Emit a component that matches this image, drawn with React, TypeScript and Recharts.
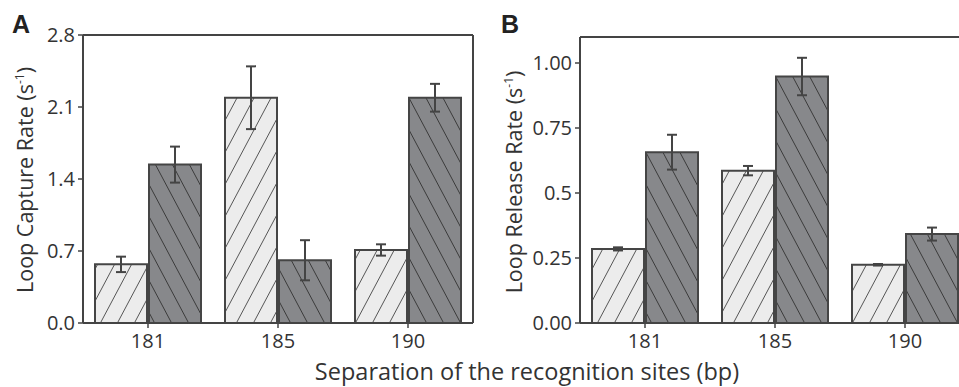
import React from "react";
import { BarChart, Bar, XAxis, YAxis, ErrorBar, ReferenceLine } from "recharts";

// separation of the recognition sites (bp)
const categories = ["181", "185", "190"];

// panel A: loop capture rate (s^-1)
const captureLight = [0.57, 2.19, 0.71];
const captureLightErr = [0.075, 0.305, 0.055];
const captureDark = [1.54, 0.61, 2.19];
const captureDarkErr = [0.175, 0.195, 0.135];
const captureTicks = [0, 0.7, 1.4, 2.1, 2.8];

// panel B: loop release rate (s^-1)
const releaseLight = [0.285, 0.586, 0.224];
const releaseLightErr = [0.006, 0.018, 0.003];
const releaseDark = [0.657, 0.948, 0.342];
const releaseDarkErr = [0.067, 0.072, 0.025];
const releaseTicks = [0, 0.25, 0.5, 0.75, 1.0];
const releaseTickLabels = ["0.00", "0.25", "0.5", "0.75", "1.00"];

const FONT = "'Open Sans', sans-serif";
const TEXT = "#333333";
const AXIS = "#444444";
const LIGHT = "#ececec";
const DARK = "#87888b";
const EDGE = "#454545";

const buildRows = (
  light: number[],
  lightErr: number[],
  dark: number[],
  darkErr: number[]
) =>
  categories.map((name, i) => ({
    name,
    light: light[i],
    lightErr: lightErr[i],
    dark: dark[i],
    darkErr: darkErr[i],
  }));

const captureData = buildRows(captureLight, captureLightErr, captureDark, captureDarkErr);
const releaseData = buildRows(releaseLight, releaseLightErr, releaseDark, releaseDarkErr);

const tickStyle = { fill: TEXT, fontSize: 20, fontFamily: FONT };
const axisLine = { stroke: AXIS, strokeWidth: 2 };
const tickLine = { stroke: AXIS, strokeWidth: 1.5 };

function Hatches({ prefix }: { prefix: string }) {
  return (
    <defs>
      <pattern id={`${prefix}-light`} patternUnits="userSpaceOnUse" width={17} height={32}>
        <rect width={17} height={32} fill={LIGHT} />
        <line x1={0} y1={32} x2={17} y2={0} stroke="#555" strokeWidth={1} />
        <line x1={-17} y1={32} x2={0} y2={0} stroke="#555" strokeWidth={1} />
        <line x1={17} y1={32} x2={34} y2={0} stroke="#555" strokeWidth={1} />
      </pattern>
      <pattern id={`${prefix}-dark`} patternUnits="userSpaceOnUse" width={17} height={32}>
        <rect width={17} height={32} fill={DARK} />
        <line x1={0} y1={0} x2={17} y2={32} stroke="#3a3a3a" strokeWidth={1} />
        <line x1={-17} y1={0} x2={0} y2={32} stroke="#3a3a3a" strokeWidth={1} />
        <line x1={17} y1={0} x2={34} y2={32} stroke="#3a3a3a" strokeWidth={1} />
      </pattern>
    </defs>
  );
}

interface PanelProps {
  data: ReturnType<typeof buildRows>;
  prefix: string;
  width: number;
  top: number;
  right: number;
  yWidth: number;
  domain: [number, number];
  ticks: number[];
  formatTick: (v: number) => string;
  tickMargin: number;
  showRight: boolean;
}

function Panel({
  data,
  prefix,
  width,
  top,
  right,
  yWidth,
  domain,
  ticks,
  formatTick,
  tickMargin,
  showRight,
}: PanelProps) {
  return (
    <BarChart
      width={width}
      height={387}
      data={data}
      margin={{ top, right, bottom: 34, left: 0 }}
      barSize={52}
      barGap={2}
    >
      <Hatches prefix={prefix} />
      <XAxis
        dataKey="name"
        height={30}
        tick={tickStyle}
        tickSize={5}
        tickMargin={6}
        axisLine={axisLine}
        tickLine={tickLine}
      />
      <YAxis
        width={yWidth}
        domain={domain}
        ticks={ticks}
        tickFormatter={formatTick}
        tick={tickStyle}
        tickSize={5}
        tickMargin={tickMargin}
        axisLine={axisLine}
        tickLine={tickLine}
        interval={0}
      />
      {showRight && (
        <YAxis
          yAxisId="right"
          orientation="right"
          width={1}
          domain={domain}
          ticks={ticks}
          tick={false}
          tickLine={false}
          axisLine={axisLine}
        />
      )}
      {/* frame top edge */}
      <ReferenceLine y={domain[1]} stroke={AXIS} strokeWidth={2} />
      <Bar
        dataKey="light"
        fill={`url(#${prefix}-light)`}
        stroke={EDGE}
        strokeWidth={2}
        isAnimationActive={false}
      >
        <ErrorBar dataKey="lightErr" width={5} stroke={AXIS} strokeWidth={2} />
      </Bar>
      <Bar
        dataKey="dark"
        fill={`url(#${prefix}-dark)`}
        stroke={EDGE}
        strokeWidth={2}
        isAnimationActive={false}
      >
        <ErrorBar dataKey="darkErr" width={5} stroke={AXIS} strokeWidth={2} />
      </Bar>
    </BarChart>
  );
}

export default function App() {
  return (
    <div
      style={{
        position: "absolute",
        left: 0,
        top: 0,
        width: 959,
        height: 387,
        overflow: "hidden",
        background: "#fff",
      }}
    >
      <div style={{ position: "absolute", left: 0, top: 0 }}>
        <Panel
          data={captureData}
          prefix="cap"
          width={480}
          top={35}
          right={6}
          yWidth={83}
          domain={[0, 2.8]}
          ticks={captureTicks}
          formatTick={(v) => v.toFixed(1)}
          tickMargin={3}
          showRight
        />
      </div>
      <div style={{ position: "absolute", left: 480, top: 0 }}>
        <Panel
          data={releaseData}
          prefix="rel"
          width={500}
          top={37}
          right={10}
          yWidth={100}
          domain={[0, 1.1]}
          ticks={releaseTicks}
          formatTick={(v) => releaseTickLabels[releaseTicks.indexOf(v)] ?? String(v)}
          tickMargin={3}
          showRight={false}
        />
      </div>
      <svg
        width={959}
        height={387}
        style={{ position: "absolute", left: 0, top: 0, pointerEvents: "none" }}
      >
        <text x={12} y={33} fontFamily="'Liberation Sans', Arial, sans-serif" fontWeight="bold" fontSize={25} fill="#222">
          A
        </text>
        <text x={501} y={33} fontFamily="'Liberation Sans', Arial, sans-serif" fontWeight="bold" fontSize={25} fill="#222">
          B
        </text>
        <text
          transform="translate(33,180) rotate(-90)"
          textAnchor="middle"
          fontFamily={FONT}
          fontSize={21.5}
          fill={TEXT}
        >
          Loop Capture Rate (s<tspan dy={-9} fontSize={12}>-1</tspan>
          <tspan dy={9}>)</tspan>
        </text>
        <text
          transform="translate(522,182) rotate(-90)"
          textAnchor="middle"
          fontFamily={FONT}
          fontSize={21.5}
          fill={TEXT}
        >
          Loop Release Rate (s<tspan dy={-9} fontSize={12}>-1</tspan>
          <tspan dy={9}>)</tspan>
        </text>
        <text x={527} y={380} textAnchor="middle" fontFamily={FONT} fontSize={23.5} fill={TEXT}>
          Separation of the recognition sites (bp)
        </text>
      </svg>
    </div>
  );
}
